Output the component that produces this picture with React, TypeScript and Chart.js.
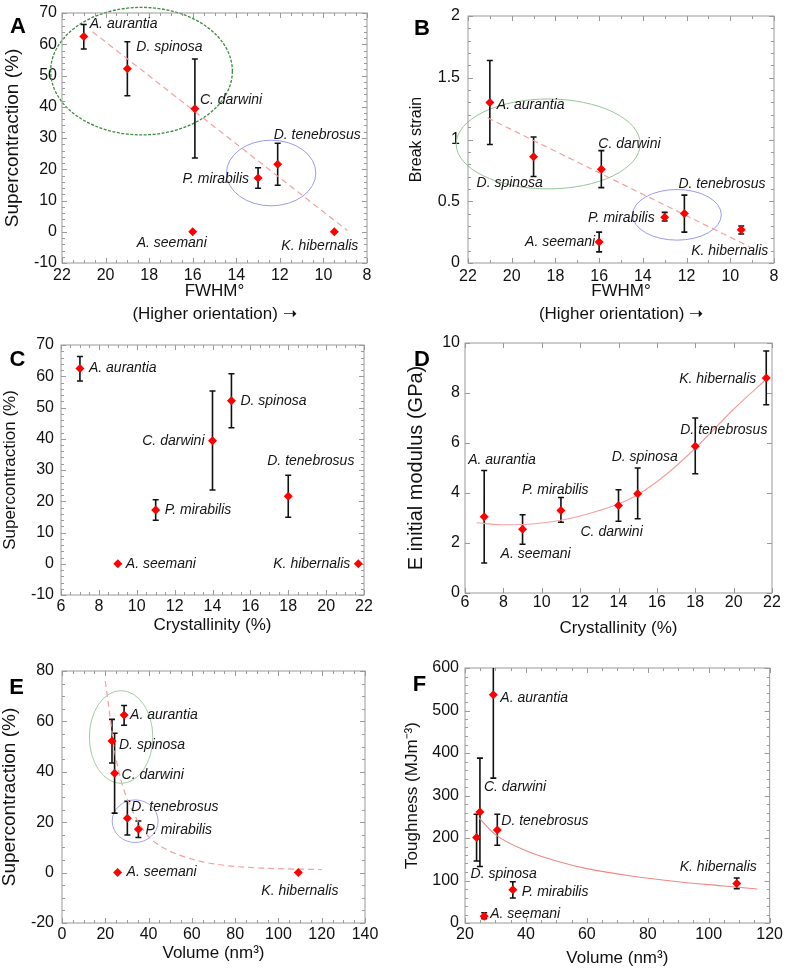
import React, { useEffect, useRef } from "react";
import { Chart, registerables } from "chart.js";

Chart.register(...registerables);

const FONT = "'Liberation Sans', Arial, Helvetica, sans-serif";

// ---------- data ----------
const SPECIES = ["A. aurantia", "D. spinosa", "C. darwini", "P. mirabilis", "D. tenebrosus", "A. seemani", "K. hibernalis"];

// Panel A: FWHM vs supercontraction
const FWHM_A = [21.0, 19.0, 15.9, 13.0, 12.1, 16.0, 9.5];
const SUPERCON = [62.5, 52.2, 39.4, 17.2, 21.6, 0, 0];
const SUPERCON_LO = [58.5, 43.5, 23.6, 13.9, 14.9, null, null];
const SUPERCON_HI = [66.3, 60.8, 55.3, 20.5, 28.3, null, null];
const FIT_A_X = [20.6, 8.9];
const FIT_A_Y = [64, 0.4];

// Panel B: FWHM vs break strain
const FWHM_B = [21.0, 19.0, 15.9, 13.0, 12.1, 16.0, 9.5];
const STRAIN = [1.3, 0.86, 0.76, 0.37, 0.4, 0.17, 0.27];
const STRAIN_LO = [0.96, 0.7, 0.61, 0.34, 0.25, 0.09, 0.235];
const STRAIN_HI = [1.64, 1.02, 0.91, 0.41, 0.55, 0.25, 0.3];
const FIT_B_X = [21.1, 9.1];
const FIT_B_Y = [1.175, 0.13];

// Panel C: crystallinity vs supercontraction
const CRYST = [7, 15, 14, 11, 18, 9, 21.7];

// Panel D: crystallinity vs initial modulus
const MODULUS = [3.05, 3.97, 3.5, 3.3, 5.87, 2.55, 8.6];
const MODULUS_LO = [1.2, 2.97, 2.87, 2.83, 4.77, 1.95, 7.53];
const MODULUS_HI = [4.9, 5.0, 4.13, 3.82, 7.0, 3.13, 9.68];
const FIT_D_X = [6.6, 8, 9, 10, 11, 12, 13, 14, 15, 16.5, 18, 20, 21.7];
const FIT_D_Y = [2.81, 2.73, 2.74, 2.8, 2.91, 3.08, 3.3, 3.56, 3.93, 4.75, 5.79, 7.35, 8.55];

// Panel E: volume vs supercontraction
const VOLUME_E = [28.7, 23.1, 24.3, 35.3, 30.2, 25.7, 109.2];
const FIT_E_X = [20, 21.6, 24, 27, 31, 38.5, 46, 62, 77, 92, 120];
const FIT_E_Y = [76, 66, 50, 37.5, 27.5, 15.8, 10.3, 4.9, 2.7, 1.8, 1.2];

// Panel F: volume vs toughness
const VOLUME_F = [29.3, 23.8, 24.9, 35.7, 30.6, 26.3, 109.2];
const TOUGHNESS = [537, 201, 261, 78, 219, 16, 93];
const TOUGHNESS_LO = [341, 146, 133, 59, 183, 10, 81];
const TOUGHNESS_HI = [733, 256, 388, 97, 256, 24, 106];
const FIT_F_X = [24.5, 30, 40, 50, 60, 75, 90, 105, 116];
const FIT_F_Y = [248, 208, 170, 146, 128, 110, 97, 87, 80];

// ---------- annotation layout (label offsets in px: dx, dy, align) ----------
const LABELS_A: [number, number, string][] = [[6, -12, "left"], [9, -22, "left"], [5, -9, "left"], [-9, 1, "right"], [-4, -29, "left"], [-56, 11, "left"], [-53, 14, "left"]];
const LABELS_B: [number, number, string][] = [[7, 3, "left"], [-57, 26, "left"], [-3, -25, "left"], [-10, 1, "right"], [-6, -29, "left"], [-4, 0, "right"], [-50, 21, "left"]];
const LABELS_C: [number, number, string][] = [[9, 0, "left"], [9, 0, "left"], [-8, 0, "right"], [9, 0, "left"], [-21, -35, "left"], [8, 0, "left"], [-8, 0, "right"]];
const LABELS_D: [number, number, string][] = [[-16, -57, "left"], [-26, -37, "left"], [-38, 27, "left"], [-39, -20, "left"], [-15, -16, "left"], [-22, 25, "left"], [-10, 1, "right"]];
const LABELS_E: [number, number, string][] = [[6, 0, "left"], [7, 4, "left"], [7, 2, "left"], [7, 1, "left"], [4, -11, "left"], [9, 0, "left"], [-37, 19, "left"]];
const LABELS_F: [number, number, string][] = [[7, 3, "left"], [-6, 37, "left"], [4, -25, "left"], [9, 2, "left"], [4, -9, "left"], [6, -2, "left"], [-57, -16, "left"]];

type Ell = { cx: number; cy: number; rx: number; ry: number; color: string; width: number; dash: number[] };

const PANELS: any[] = [
  {
    letter: "A", letterPos: [18, 27], left: 0, top: 0, w: 393, h: 330,
    area: { l: 62, r: 367, t: 9, b: 263 }, padBottom: 4.5,
    x: { min: 8, max: 22, step: 2, reverse: true, title: ["FWHM\u00B0", "(Higher orientation) \u279D"], titleSize: 17, titleLH: "23px", titlePadBottom: 0, tickPad: 5, minor: 4 },
    y: { min: -10, max: 70, step: 10, title: "Supercontraction (%)", titleSize: 19, titlePadTop: 3, tickPad: 5, minor: 5 },
    xs: FWHM_A, ys: SUPERCON, lo: SUPERCON_LO, hi: SUPERCON_HI,
    fitX: FIT_A_X, fitY: FIT_A_Y, fit: { color: "#f2a0a0", dash: [6, 4], width: 1.2, curve: false },
    labels: LABELS_A,
    ellipses: [
      { cx: 18.35, cy: 51.4, rx: 4.17, ry: 20.4, color: "#3f8a42", width: 1.3, dash: [3, 1.5] },
      { cx: 12.4, cy: 18.8, rx: 2.05, ry: 10.5, color: "#9a9af0", width: 1, dash: [] },
    ] as Ell[],
  },
  {
    letter: "B", letterPos: [29, 29], left: 393, top: 0, w: 394, h: 330,
    area: { l: 75, r: 381, t: 9, b: 263 }, padBottom: 4.5,
    x: { min: 8, max: 22, step: 2, reverse: true, title: ["FWHM\u00B0", "(Higher orientation) \u279D"], titleSize: 17, titleLH: "23px", titlePadBottom: 0, tickPad: 6, minor: 2 },
    y: { min: 0, max: 2, step: 0.5, title: "Break strain", titleSize: 16, titlePadTop: 16, tickPad: 8, minor: 5 },
    xs: FWHM_B, ys: STRAIN, lo: STRAIN_LO, hi: STRAIN_HI,
    fitX: FIT_B_X, fitY: FIT_B_Y, fit: { color: "#f2a0a0", dash: [6, 4], width: 1.2, curve: false },
    labels: LABELS_B,
    ellipses: [
      { cx: 18.33, cy: 0.964, rx: 4.21, ry: 0.364, color: "#96c496", width: 1, dash: [] },
      { cx: 12.44, cy: 0.39, rx: 2.03, ry: 0.205, color: "#9a9af0", width: 1, dash: [] },
    ] as Ell[],
  },
  {
    letter: "C", letterPos: [17.5, 30], left: 0, top: 330, w: 393, h: 310,
    area: { l: 61, r: 364, t: 9, b: 265 }, padBottom: 0,
    x: { min: 6, max: 22, step: 2, reverse: false, title: "Crystallinity (%)", titleSize: 17, titleLH: 1.2, titlePadBottom: 4.8, tickPad: 4, minor: 4 },
    y: { min: -10, max: 70, step: 10, title: "Supercontraction (%)", titleSize: 17, titlePadTop: 1.5, tickPad: 7, minor: 5 },
    xs: CRYST, ys: SUPERCON, lo: SUPERCON_LO, hi: SUPERCON_HI,
    fitX: [], fitY: [], fit: null,
    labels: LABELS_C,
    ellipses: [] as Ell[],
  },
  {
    letter: "D", letterPos: [29, 30], left: 393, top: 330, w: 394, h: 310,
    area: { l: 72, r: 379, t: 9, b: 263 }, padBottom: 0,
    x: { min: 6, max: 22, step: 2, reverse: false, title: "Crystallinity (%)", titleSize: 17, titleLH: 1.2, titlePadBottom: 1.8, tickPad: 2, minor: 1 },
    y: { min: 0, max: 10, step: 2, title: "E initial modulus (GPa)", titleSize: 20, titlePadTop: 13, tickPad: 5, minor: 1 },
    xs: CRYST, ys: MODULUS, lo: MODULUS_LO, hi: MODULUS_HI,
    fitX: FIT_D_X, fitY: FIT_D_Y, fit: { color: "#f5a0a0", dash: [], width: 1.2, curve: true },
    labels: LABELS_D,
    ellipses: [] as Ell[],
  },
  {
    letter: "E", letterPos: [16.5, 48], left: 0, top: 640, w: 393, h: 329,
    area: { l: 62, r: 365, t: 31, b: 283 }, padBottom: 0,
    x: { min: 0, max: 140, step: 20, reverse: false, title: "Volume (nm\u00B3)", titleSize: 17, titleLH: 1.2, titlePadBottom: 5.8, tickPad: 4, minor: 4 },
    y: { min: -20, max: 80, step: 20, title: "Supercontraction (%)", titleSize: 19, titlePadTop: 0, tickPad: 8, minor: 4 },
    xs: VOLUME_E, ys: SUPERCON, lo: SUPERCON_LO, hi: SUPERCON_HI,
    fitX: FIT_E_X, fitY: FIT_E_Y, fit: { color: "#f2a0a0", dash: [6, 4], width: 1.2, curve: true },
    labels: LABELS_E,
    ellipses: [
      { cx: 27.3, cy: 53.8, rx: 14.65, ry: 18.4, color: "#a2cca2", width: 1, dash: [] },
      { cx: 33.8, cy: 20.4, rx: 10.6, ry: 8.45, color: "#a2a2f2", width: 1, dash: [] },
    ] as Ell[],
  },
  {
    letter: "F", letterPos: [26.5, 45], left: 393, top: 640, w: 394, h: 329,
    area: { l: 72, r: 379, t: 28, b: 283 }, padBottom: 0,
    x: { min: 20, max: 120, step: 20, reverse: false, title: "Volume (nm\u00B3)", titleSize: 17, titleLH: 1.2, titlePadBottom: 0.8, tickPad: 4, minor: 4 },
    y: { min: 0, max: 600, step: 100, title: "Toughness (MJm\u207B\u00B3)", titleSize: 17, titlePadTop: 10.5, tickPad: 6, minor: 5 },
    xs: VOLUME_F, ys: TOUGHNESS, lo: TOUGHNESS_LO, hi: TOUGHNESS_HI,
    fitX: FIT_F_X, fitY: FIT_F_Y, fit: { color: "#f08888", dash: [], width: 1.1, curve: true },
    labels: LABELS_F,
    ellipses: [] as Ell[],
  },
];

function makeDecor(p: any) {
  return {
    id: "decor" + p.letter,
    beforeDatasetsDraw(chart: any) {
      const { ctx, chartArea: a } = chart;
      const xs = chart.scales.x;
      const ys = chart.scales.y;
      ctx.save();
      // ellipses
      for (const e of p.ellipses as Ell[]) {
        const cx = xs.getPixelForValue(e.cx);
        const cy = ys.getPixelForValue(e.cy);
        const rx = Math.abs(xs.getPixelForValue(e.cx + e.rx) - cx);
        const ry = Math.abs(ys.getPixelForValue(e.cy + e.ry) - cy);
        ctx.beginPath();
        ctx.setLineDash(e.dash);
        ctx.strokeStyle = e.color;
        ctx.lineWidth = e.width;
        ctx.ellipse(cx, cy, rx, ry, 0, 0, Math.PI * 2);
        ctx.stroke();
      }
      ctx.setLineDash([]);
      // frame and inward ticks
      ctx.strokeStyle = "#9a9a9a";
      ctx.lineWidth = 1;
      ctx.strokeRect(a.left, a.top, a.right - a.left, a.bottom - a.top);
      const drawTicks = (scale: any, horiz: boolean, minor: number) => {
        const vals = scale.ticks.map((t: any) => t.value);
        const lines: [number, number][] = [];
        for (let i = 0; i < vals.length; i++) {
          lines.push([vals[i], 5]);
          if (i < vals.length - 1 && minor > 1) {
            for (let k = 1; k < minor; k++) {
              lines.push([vals[i] + ((vals[i + 1] - vals[i]) * k) / minor, 3]);
            }
          }
        }
        ctx.beginPath();
        for (const [v, len] of lines) {
          const px = Math.round(scale.getPixelForValue(v)) + 0.5;
          if (horiz) {
            ctx.moveTo(px, a.bottom); ctx.lineTo(px, a.bottom - len);
            ctx.moveTo(px, a.top); ctx.lineTo(px, a.top + len);
          } else {
            ctx.moveTo(a.left, px); ctx.lineTo(a.left + len, px);
            ctx.moveTo(a.right, px); ctx.lineTo(a.right - len, px);
          }
        }
        ctx.stroke();
      };
      drawTicks(xs, true, p.x.minor);
      drawTicks(ys, false, p.y.minor);
      // error bars
      ctx.beginPath();
      ctx.rect(a.left, a.top, a.right - a.left, a.bottom - a.top);
      ctx.clip();
      ctx.strokeStyle = "#111111";
      ctx.lineWidth = 1.6;
      ctx.beginPath();
      for (let i = 0; i < p.xs.length; i++) {
        if (p.lo[i] == null || p.hi[i] == null) continue;
        const x = xs.getPixelForValue(p.xs[i]);
        const y1 = ys.getPixelForValue(p.lo[i]);
        const y2 = ys.getPixelForValue(p.hi[i]);
        ctx.moveTo(x, y1); ctx.lineTo(x, y2);
        ctx.moveTo(x - 3, y1); ctx.lineTo(x + 3, y1);
        ctx.moveTo(x - 3, y2); ctx.lineTo(x + 3, y2);
      }
      ctx.stroke();
      ctx.restore();
    },
    afterDatasetsDraw(chart: any) {
      const { ctx } = chart;
      const xs = chart.scales.x;
      const ys = chart.scales.y;
      ctx.save();
      ctx.font = "italic 14px " + FONT;
      ctx.fillStyle = "#151515";
      ctx.textBaseline = "middle";
      for (let i = 0; i < SPECIES.length; i++) {
        const [dx, dy, align] = p.labels[i];
        ctx.textAlign = align;
        ctx.fillText(SPECIES[i], xs.getPixelForValue(p.xs[i]) + dx, ys.getPixelForValue(p.ys[i]) + dy);
      }
      ctx.font = "bold 22px " + FONT;
      ctx.fillStyle = "#000";
      ctx.textAlign = "center";
      ctx.fillText(p.letter, p.letterPos[0], p.letterPos[1]);
      ctx.restore();
    },
  };
}

const fmt = (v: any) => String(Math.round(Number(v) * 1000) / 1000);

function makeConfig(p: any): any {
  const datasets: any[] = [
    {
      label: "species",
      data: p.xs.map((x: number, i: number) => ({ x, y: p.ys[i] })),
      pointStyle: "rectRot",
      pointRadius: 4.5,
      backgroundColor: "#ff0000",
      borderColor: "#ff0000",
      borderWidth: 0,
      order: 0,
    },
  ];
  if (p.fit) {
    datasets.push({
      label: "fit",
      data: p.fitX.map((x: number, i: number) => ({ x, y: p.fitY[i] })),
      showLine: true,
      pointRadius: 0,
      borderColor: p.fit.color,
      backgroundColor: p.fit.color,
      borderWidth: p.fit.width,
      borderDash: p.fit.dash,
      cubicInterpolationMode: p.fit.curve ? "monotone" : "default",
      tension: 0,
      fill: false,
      order: 1,
    });
  }
  const xH = p.h - p.padBottom - p.area.b;
  const yW = p.area.l;
  return {
    type: "scatter",
    data: { datasets },
    options: {
      responsive: false,
      animation: false,
      devicePixelRatio: 1,
      layout: { padding: { left: 0, right: p.w - p.area.r, top: p.area.t, bottom: p.padBottom } },
      plugins: { legend: { display: false }, tooltip: { enabled: false } },
      scales: {
        x: {
          type: "linear",
          min: p.x.min,
          max: p.x.max,
          reverse: p.x.reverse,
          grid: { display: false, drawTicks: false },
          border: { display: false },
          ticks: {
            stepSize: p.x.step,
            autoSkip: false,
            maxRotation: 0,
            padding: p.x.tickPad,
            color: "#111",
            font: { family: FONT, size: 16, lineHeight: 1 },
            callback: fmt,
          },
          title: {
            display: true,
            text: p.x.title,
            color: "#111",
            font: { family: FONT, size: p.x.titleSize, lineHeight: p.x.titleLH },
            padding: { top: 0, bottom: p.x.titlePadBottom },
          },
          afterFit: (s: any) => { s.height = xH; },
        },
        y: {
          type: "linear",
          min: p.y.min,
          max: p.y.max,
          grid: { display: false, drawTicks: false },
          border: { display: false },
          ticks: {
            stepSize: p.y.step,
            autoSkip: false,
            padding: p.y.tickPad,
            color: "#111",
            font: { family: FONT, size: 16, lineHeight: 1 },
            callback: fmt,
          },
          title: {
            display: true,
            text: p.y.title,
            color: "#111",
            font: { family: FONT, size: p.y.titleSize, lineHeight: 1 },
            padding: { top: p.y.titlePadTop, bottom: 0 },
          },
          afterFit: (s: any) => { s.width = yW; },
        },
      },
    },
    plugins: [makeDecor(p)],
  };
}

function Panel({ p }: { p: any }) {
  const ref = useRef<HTMLCanvasElement>(null);
  useEffect(() => {
    const chart = new Chart(ref.current as HTMLCanvasElement, makeConfig(p));
    return () => chart.destroy();
  }, [p]);
  return (
    <canvas
      ref={ref}
      width={p.w}
      height={p.h}
      style={{ position: "absolute", left: p.left, top: p.top, width: p.w, height: p.h, display: "block" }}
    />
  );
}

export default function App() {
  return (
    <div style={{ position: "absolute", left: 0, top: 0, width: 787, height: 969, background: "#ffffff", overflow: "hidden" }}>
      {PANELS.map((p) => (
        <Panel key={p.letter} p={p} />
      ))}
    </div>
  );
}
